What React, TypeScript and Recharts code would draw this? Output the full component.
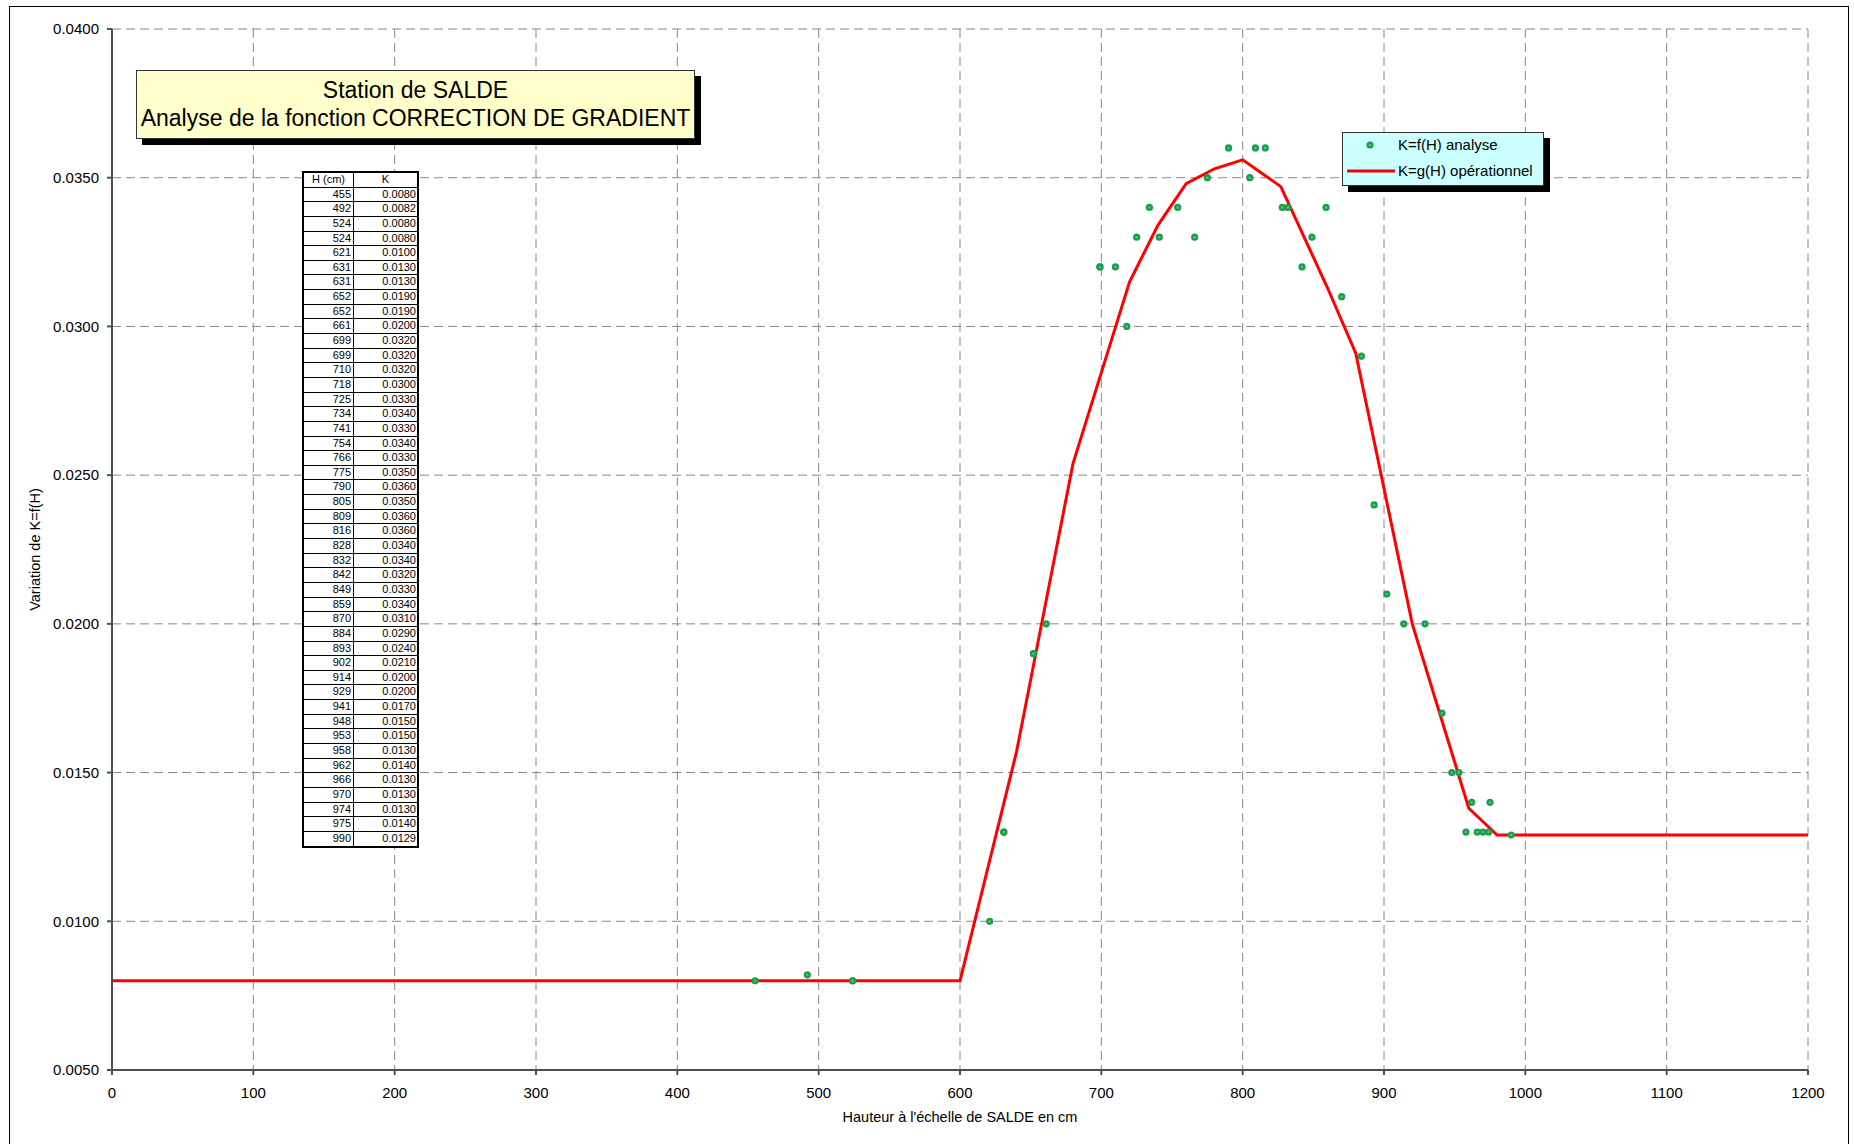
import { ComposedChart, Line, Scatter, XAxis, YAxis, CartesianGrid, Legend } from 'recharts';

// relevés H (cm) / K
const hMesures = [455, 492, 524, 524, 621, 631, 631, 652, 652, 661, 699, 699, 710, 718, 725, 734, 741, 754, 766, 775, 790, 805, 809, 816, 828, 832, 842, 849, 859, 870, 884, 893, 902, 914, 929, 941, 948, 953, 958, 962, 966, 970, 974, 975, 990];
const kMesures = [0.0080, 0.0082, 0.0080, 0.0080, 0.0100, 0.0130, 0.0130, 0.0190, 0.0190, 0.0200, 0.0320, 0.0320, 0.0320, 0.0300, 0.0330, 0.0340, 0.0330, 0.0340, 0.0330, 0.0350, 0.0360, 0.0350, 0.0360, 0.0360, 0.0340, 0.0340, 0.0320, 0.0330, 0.0340, 0.0310, 0.0290, 0.0240, 0.0210, 0.0200, 0.0200, 0.0170, 0.0150, 0.0150, 0.0130, 0.0140, 0.0130, 0.0130, 0.0130, 0.0140, 0.0129];

// courbe opérationnelle K=g(H)
const hOperationnel = [0, 600, 640, 680, 720, 740, 760, 780, 800, 827, 860, 880, 920, 960, 980, 1200];
const kOperationnel = [0.008, 0.008, 0.0157, 0.0254, 0.0315, 0.0334, 0.0348, 0.0353, 0.0356, 0.0347, 0.0313, 0.0291, 0.0200, 0.0138, 0.0129, 0.0129];

const xTicks = [0, 100, 200, 300, 400, 500, 600, 700, 800, 900, 1000, 1100, 1200];
const yTicks = [0.005, 0.01, 0.015, 0.02, 0.025, 0.03, 0.035, 0.04];

const FONT = 'Arial, "Liberation Sans", sans-serif';

const mesures = hMesures.map((h, i) => ({ H: h, K: kMesures[i] }));
const operationnel = hOperationnel.map((h, i) => ({ H: h, K: kOperationnel[i] }));

function Point(props: any) {
    const { cx, cy } = props;
    return (
        <g>
            <circle cx={cx} cy={cy} r={3.6} fill="#1f9a52" />
            <circle cx={cx} cy={cy} r={1.2} fill="#3ee03e" />
        </g>
    );
}

function LegendBox() {
    return (
        <div style={{
            position: 'relative', width: 202, height: 54, boxSizing: 'border-box',
            background: '#CCFFFF', border: '1px solid #333', boxShadow: '6px 6px 0 #000',
            fontFamily: FONT, fontSize: 15, color: '#000',
        }}>
            <svg width={54} height={54} style={{ position: 'absolute', left: -1, top: -1 }}>
                <circle cx={28} cy={13} r={3.6} fill="#1f9a52" />
                <circle cx={28} cy={13} r={1.2} fill="#3ee03e" />
                <line x1={5} x2={53} y1={39} y2={39} stroke="#ff0000" strokeWidth={3} />
            </svg>
            <div style={{ position: 'absolute', left: 55, top: 3, lineHeight: '18px', whiteSpace: 'nowrap' }}>K=f(H) analyse</div>
            <div style={{ position: 'absolute', left: 55, top: 29, lineHeight: '18px', whiteSpace: 'nowrap' }}>K=g(H) opérationnel</div>
        </div>
    );
}

function TableMesures() {
    const rowH = 674 / 46;
    const rows = [['H (cm)', 'K'], ...hMesures.map((h, i) => [String(h), kMesures[i].toFixed(4)])];
    return (
        <div style={{
            position: 'absolute', left: 302, top: 171, width: 117, boxSizing: 'border-box',
            border: '2px solid #000', background: '#fff', fontFamily: FONT, fontSize: 11, color: '#000',
        }}>
            {rows.map((r, i) => (
                <div key={i} style={{
                    display: 'flex', height: rowH, boxSizing: 'border-box',
                    borderBottom: i < rows.length - 1 ? '1px solid #000' : 'none',
                    lineHeight: `${rowH - 1}px`,
                }}>
                    <div style={{ width: 50, borderRight: '1px solid #000', textAlign: i === 0 ? 'center' : 'right', paddingRight: i === 0 ? 0 : 2, boxSizing: 'border-box' }}>{r[0]}</div>
                    <div style={{ flex: 1, textAlign: i === 0 ? 'center' : 'right', paddingRight: i === 0 ? 0 : 1 }}>{r[1]}</div>
                </div>
            ))}
        </div>
    );
}

export default function App() {
    return (
        <div style={{ position: 'absolute', left: 0, top: 0, width: 1854, height: 1144, overflow: 'hidden', background: '#fff' }}>
            <div style={{ position: 'absolute', left: 9, top: 6, width: 1840, height: 1200, border: '1px solid #000', boxSizing: 'border-box' }} />
            <div style={{ position: 'absolute', left: 0, top: 0 }}>
                <ComposedChart width={1854} height={1144} margin={{ top: 29, right: 46, bottom: 14, left: 12 }}>
                    <CartesianGrid stroke="#888" strokeDasharray="9 5" />
                    <XAxis
                        dataKey="H"
                        type="number"
                        domain={[0, 1200]}
                        ticks={xTicks}
                        allowDataOverflow
                        height={60}
                        tickSize={5}
                        tickMargin={12}
                        stroke="#505050"
                        strokeWidth={2}
                        tick={{ fill: '#000', fontSize: 15, fontFamily: FONT }}
                        label={{ value: "Hauteur à l'échelle de SALDE en cm", position: 'insideBottom', offset: 8, fill: '#000', fontSize: 14.5, fontFamily: FONT }}
                    />
                    <YAxis
                        type="number"
                        domain={[0.005, 0.04]}
                        ticks={yTicks}
                        allowDataOverflow
                        width={100}
                        tickSize={5}
                        tickMargin={8}
                        stroke="#505050"
                        strokeWidth={2}
                        tickFormatter={(v) => Number(v).toFixed(4)}
                        tick={{ fill: '#000', fontSize: 15, fontFamily: FONT }}
                        label={{ value: 'Variation de K=f(H)', angle: -90, position: 'insideLeft', offset: 23, fill: '#000', fontSize: 14.5, fontFamily: FONT, style: { textAnchor: 'middle' } }}
                    />
                    <Line
                        data={operationnel}
                        dataKey="K"
                        type="linear"
                        stroke="#ff0000"
                        strokeWidth={3}
                        dot={false}
                        activeDot={false}
                        isAnimationActive={false}
                    />
                    <Scatter
                        data={mesures}
                        dataKey="K"
                        shape={<Point />}
                        isAnimationActive={false}
                    />
                    <Legend
                        layout="horizontal"
                        verticalAlign="middle"
                        align="center"
                        content={() => <LegendBox />}
                        wrapperStyle={{ left: 1342, top: 132, width: 202, height: 54 }}
                    />
                </ComposedChart>
            </div>
            <div style={{
                position: 'absolute', left: 136, top: 70, width: 559, height: 69, boxSizing: 'border-box',
                background: '#FFFFCC', border: '1px solid #333', boxShadow: '6px 6px 0 #000',
                fontFamily: FONT, fontSize: 23, lineHeight: '28px', textAlign: 'center', paddingTop: 5, color: '#000',
            }}>
                Station de SALDE<br />Analyse de la fonction CORRECTION DE GRADIENT
            </div>
            <TableMesures />
        </div>
    );
}
